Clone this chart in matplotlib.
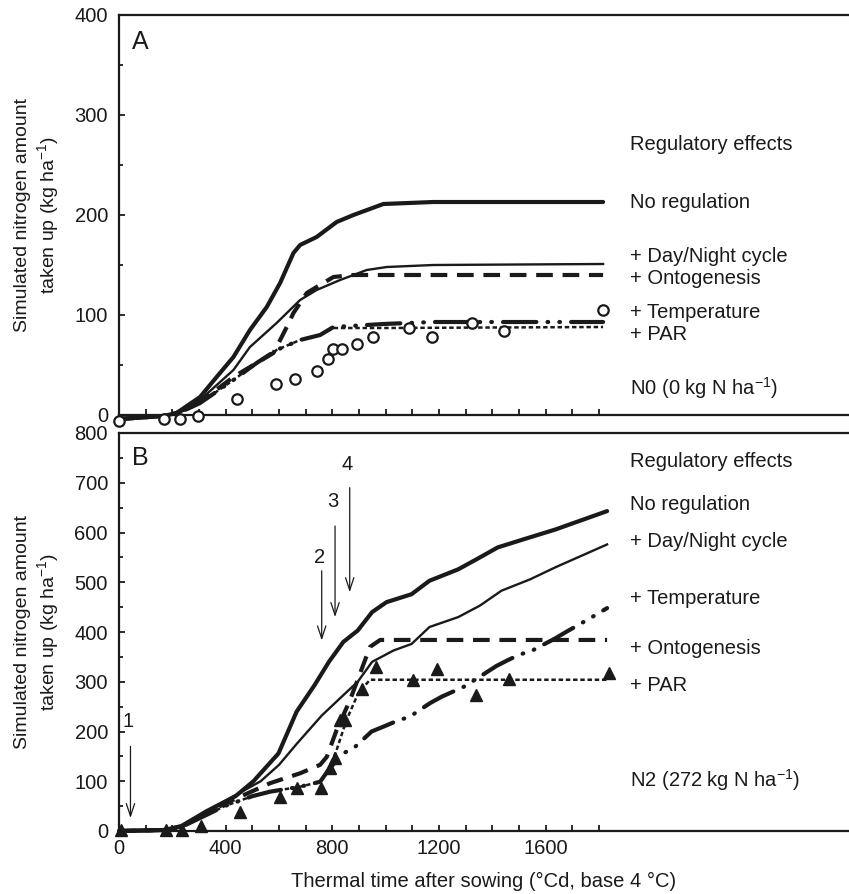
import numpy as np
import matplotlib
matplotlib.use("Agg")
import matplotlib.pyplot as plt
from matplotlib.ticker import MultipleLocator, FixedLocator, NullFormatter

plt.rcParams['font.family'] = ['Liberation Sans', 'DejaVu Sans']
plt.rcParams['mathtext.fontset'] = 'custom'
plt.rcParams['mathtext.rm'] = 'Liberation Sans'
plt.rcParams['mathtext.it'] = 'Liberation Sans'
plt.rcParams['lines.scale_dashes'] = False

# ---- panel A : N0 ----
a_noreg_x = [0, 166, 216, 304, 366, 429, 491, 554, 604, 654, 679, 741, 816, 879, 991, 1179, 1815]
a_noreg_y = [-4, -1, 2, 18, 38, 58, 85, 108, 132, 162, 170, 178, 193, 200, 211, 213, 213]

a_day_x = [0, 166, 216, 304, 429, 491, 591, 679, 741, 829, 929, 1004, 1179, 1815]
a_day_y = [-4, -1, 2, 15, 45, 68, 92, 115, 125, 135, 145, 148, 150, 151]

a_onto_x = [0, 166, 216, 304, 429, 516, 579, 610, 629, 654, 704, 741, 804, 879, 1815]
a_onto_y = [-4, -1, 2, 13, 38, 52, 62, 78, 88, 102, 122, 128, 138, 140, 140]

a_temp_x = [0, 166, 216, 304, 429, 516, 591, 679, 754, 804, 991, 1179, 1815]
a_temp_y = [-4, -1, 1, 12, 35, 52, 65, 75, 80, 88, 91, 93, 93]

a_par_x = [0, 166, 216, 304, 429, 516, 591, 679, 754, 804, 991, 1815]
a_par_y = [-4, -1, 1, 12, 35, 52, 65, 75, 80, 87, 87, 88]

a_obs_x = [0, 170, 229, 295, 441, 588, 659, 744, 784, 804, 835, 894, 951, 1086, 1175, 1325, 1443, 1815]
a_obs_y = [-6, -4, -4, -1, 16, 31, 36, 44, 56, 66, 66, 71, 78, 87, 78, 92, 84, 105]

# ---- panel B : N2 ----
b_noreg_x = [0, 170, 234, 329, 437, 504, 598, 666, 733, 787, 841, 895, 949, 1003, 1097, 1164, 1272,
             1340, 1420, 1515, 1636, 1830]
b_noreg_y = [0, 2, 10, 40, 70, 100, 156, 240, 293, 340, 380, 403, 440, 460, 476, 503, 526,
             546, 570, 586, 606, 643]

b_day_x = [0, 170, 234, 396, 531, 600, 666, 760, 841, 895, 949, 1030, 1097, 1164, 1272, 1353, 1434,
           1542, 1636, 1830]
b_day_y = [0, 2, 10, 60, 100, 133, 175, 232, 273, 300, 340, 363, 376, 410, 430, 453, 483,
           506, 530, 576]

b_onto_x = [0, 170, 234, 396, 500, 566, 679, 754, 779, 816, 866, 904, 941, 979, 1830]
b_onto_y = [0, 2, 9, 55, 80, 96, 116, 133, 149, 203, 263, 317, 370, 384, 384]

b_temp_x = [0, 170, 234, 396, 500, 566, 679, 754, 790, 841, 885, 947, 997, 1041, 1091, 1166, 1210,
            1256, 1297, 1416, 1460, 1504, 1547, 1635, 1679, 1722, 1764, 1830]
b_temp_y = [0, 2, 8, 50, 70, 79, 89, 99, 126, 156, 169, 200, 211, 221, 230, 257, 270,
            281, 291, 332, 344, 355, 362, 387, 401, 414, 427, 448]

b_par_x = [0, 170, 234, 396, 500, 566, 679, 754, 785, 816, 853, 897, 941, 1830]
b_par_y = [0, 2, 8, 50, 70, 79, 89, 99, 123, 163, 223, 277, 304, 304]

b_obs_x = [8, 177, 237, 309, 454, 605, 668, 759, 791, 810, 827, 848, 912, 962, 1104, 1192, 1340, 1461, 1836]
b_obs_y = [2, 2, 3, 10, 38, 68, 86, 86, 126, 146, 223, 223, 286, 330, 303, 326, 273, 306, 318]

labels_a = ['Regulatory effects', 'No regulation', '+ Day/Night cycle', '+ Ontogenesis',
            '+ Temperature', '+ PAR', 'N0 (0 kg N ha$^{-1}$)']
labels_a_y = [270, 213, 158, 137, 103, 80, 27]
labels_b = ['Regulatory effects', 'No regulation', '+ Day/Night cycle', '+ Temperature',
            '+ Ontogenesis', '+ PAR', 'N2 (272 kg N ha$^{-1}$)']
labels_b_y = [742, 656, 582, 468, 367, 292, 102]

arrow_names = ['1', '2', '3', '4']
arrow_x = [43, 760, 810, 865]
arrow_top = [170, 523, 613, 690]
arrow_tip = [26, 383, 430, 480]
arrow_lab_y = [220, 550, 663, 736]

FS = 14.5
INK = '#1a1a1a'

styles = {
    'noreg': dict(color=INK, lw=3.0, solid_capstyle='round', solid_joinstyle='round'),
    'day': dict(color=INK, lw=1.7),
    'onto': dict(color=INK, lw=3.0, dashes=(12, 7), dash_capstyle='butt'),
    'temp': dict(color=INK, lw=3.0, dashes=(24, 8, 0.5, 8, 0.5, 8), dash_capstyle='round'),
    'par': dict(color=INK, lw=1.8, dashes=(3.2, 2.0), dash_capstyle='butt'),
}

fig = plt.figure(figsize=(8.49, 8.94), dpi=100)
axA = fig.add_axes([119/849, 1-415/894, 730/849, 400/894])
axB = fig.add_axes([119/849, 1-831/894, 730/849, 398/894])

XMAX = 2737

def style_axis(ax, ymax):
    ax.set_xlim(0, XMAX)
    ax.set_ylim(0, ymax)
    ax.spines['right'].set_visible(False)
    for s in ['left', 'top', 'bottom']:
        ax.spines[s].set_linewidth(1.6)
        ax.spines[s].set_color(INK)
    ax.xaxis.set_major_locator(FixedLocator(np.arange(0, 1801, 100)))
    ax.yaxis.set_major_locator(MultipleLocator(100))
    ax.yaxis.set_minor_locator(MultipleLocator(50))
    ax.tick_params(axis='both', which='both', direction='in', width=1.3, color=INK,
                   labelsize=FS, labelcolor=INK)
    ax.tick_params(axis='x', which='major', length=4, pad=6)
    ax.tick_params(axis='y', which='major', length=4, pad=8)
    ax.tick_params(axis='y', which='minor', length=3)
    ax.set_ylabel('Simulated nitrogen amount\ntaken up (kg ha$^{-1}$)', fontsize=14,
                  color=INK, linespacing=1.25)
    ax.yaxis.set_label_coords(-0.079, 0.5)

style_axis(axA, 400)
style_axis(axB, 800)

axA.xaxis.set_major_formatter(NullFormatter())
axB.set_xticklabels([str(int(v)) if v % 400 == 0 and v <= 1600 else '' for v in np.arange(0, 1801, 100)])
axB.set_xlabel('Thermal time after sowing (\u00b0Cd, base 4 \u00b0C)', fontsize=FS, color=INK, labelpad=10)

# panel A lines
axA.plot(a_noreg_x, a_noreg_y, clip_on=False, **styles['noreg'])
axA.plot(a_day_x, a_day_y, clip_on=False, **styles['day'])
axA.plot(a_onto_x, a_onto_y, clip_on=False, **styles['onto'])
axA.plot(a_temp_x, a_temp_y, clip_on=False, **styles['temp'])
axA.plot(a_par_x, a_par_y, clip_on=False, **styles['par'])
axA.plot(a_obs_x, a_obs_y, 'o', ms=7.5, mfc='white', mec=INK, mew=1.6, clip_on=False, zorder=5)

# panel B lines
axB.plot(b_noreg_x, b_noreg_y, clip_on=False, **styles['noreg'])
axB.plot(b_day_x, b_day_y, clip_on=False, **styles['day'])
axB.plot(b_onto_x, b_onto_y, clip_on=False, **styles['onto'])
axB.plot(b_temp_x, b_temp_y, clip_on=False, **styles['temp'])
axB.plot(b_par_x, b_par_y, clip_on=False, **styles['par'])
axB.plot(b_obs_x, b_obs_y, '^', ms=8.5, mfc=INK, mec=INK, clip_on=False, zorder=5)

# text on the right
for t, y in zip(labels_a, labels_a_y):
    axA.text(1916, y, t, fontsize=FS, color=INK, va='center', ha='left')
for t, y in zip(labels_b, labels_b_y):
    axB.text(1916, y, t, fontsize=FS, color=INK, va='center', ha='left')

axA.text(81, 373, 'A', fontsize=18, color=INK, va='center', ha='center')
axB.text(80, 750, 'B', fontsize=18, color=INK, va='center', ha='center')

# arrows in panel B
for name, x, y0, y1, yl in zip(arrow_names, arrow_x, arrow_top, arrow_tip, arrow_lab_y):
    axB.annotate('', xy=(x, y1), xytext=(x, y0),
                 arrowprops=dict(arrowstyle='->,head_length=0.9,head_width=0.3', lw=0.9, color=INK,
                                 shrinkA=0, shrinkB=0))
    axB.text(x - 8, yl, name, fontsize=FS, color=INK, va='center', ha='center')

fig.savefig('out.png', dpi=100, facecolor='white')
